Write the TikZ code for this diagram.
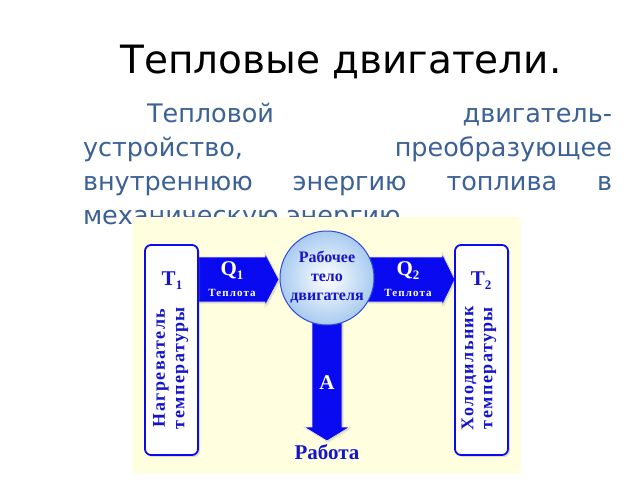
\documentclass[tikz,border=0pt]{standalone}
\usepackage{fontspec}
\setmainfont{DejaVu Sans}
\newfontfamily\tnr{Liberation Serif}
\newfontfamily\tnrsp[LetterSpace=8]{Liberation Serif}
\newfontfamily\tnrspw[LetterSpace=10]{Liberation Serif}
\usetikzlibrary{shadows,calc}
\definecolor{bodytext}{HTML}{3B6196}
\definecolor{panel}{HTML}{FFFFE0}
\definecolor{arrowblue}{HTML}{0A0AF0}
\definecolor{dtext}{HTML}{1414CC}
\definecolor{circblue}{HTML}{A9CBF0}
\definecolor{rimblue}{HTML}{2B4BD8}
\begin{document}
\begin{tikzpicture}[x=1pt,y=-1pt,
 every node/.style={inner sep=0pt, outer sep=0pt},
 titletext/.style={font=\fontsize{39}{39}\selectfont, text=black, anchor=base},
 para/.style={font=\fontsize{25.5}{30}\selectfont, text=bodytext, anchor=base west},
 tbox/.style={draw=arrowblue, line width=1.8pt, fill=white, rounded corners=6pt, minimum width=53pt, minimum height=210pt, drop shadow={shadow xshift=2pt, shadow yshift=-2pt, opacity=0.25}},
 blockarrow/.style={fill=arrowblue, draw=black!12, line width=0.8pt, drop shadow={shadow xshift=1.5pt, shadow yshift=-1.5pt, opacity=0.2}},
 dlabel/.style={font=\tnr\bfseries\fontsize{21}{21}\selectfont, text=dtext},
 wlabel/.style={font=\tnr\bfseries\fontsize{21}{21}\selectfont, text=white},
 smalllabel/.style={font=\tnrspw\bfseries\fontsize{11}{11}\selectfont, text=white},
 vlabel/.style={font=\tnrsp\bfseries\fontsize{18}{18}\selectfont, text=dtext, rotate=90},
 circtext/.style={font=\tnr\bfseries\fontsize{16}{19}\selectfont, text=dtext, align=center},
]
\useasboundingbox (0,0) rectangle (640,480);
\fill[white] (0,0) rectangle (640,480);
% title and paragraph
\node[titletext] (title) at (341,73) {Тепловые двигатели.};
\node[para] (l1) at (147,122) {\makebox[465pt][s]{Тепловой\hfill двигатель-}};
\node[para] (l2) at (83,156) {\makebox[529pt][s]{устройство,\hfill преобразующее}};
\node[para] (l3) at (83,190) {\makebox[529pt][s]{внутреннюю\hfill энергию\hfill топлива\hfill в}};
\node[para] (l4) at (83,224) {механическую энергию};
% panel
\fill[panel] (133,217) rectangle (521,474);
% arrows
\path[blockarrow] (198,257) -- (265,257) -- (265,253) -- (279,279.5) -- (265,306) -- (265,302) -- (198,302) -- cycle;
\path[blockarrow] (362,257) -- (442,257) -- (442,253) -- (455,279.5) -- (442,306) -- (442,302) -- (362,302) -- cycle;
\path[blockarrow] (312,300) -- (342,300) -- (342,427) -- (350,427) -- (327,441) -- (304,427) -- (312,427) -- cycle;
% boxes
\node[tbox] (heater) at (171.5,350) {};
\node[tbox] (cooler) at (481.5,350) {};
% circle
\node[circle, minimum size=94pt, draw=rimblue, line width=1pt, inner color=white, outer color=circblue] (body) at (327,278) {};
\node[circtext] (bodytxt) at (327,277) {Рабочее\\тело\\двигателя};
% labels
\node[dlabel] (t1) at (172,281) {T\raisebox{-4pt}{\fontsize{13}{13}\selectfont 1}};
\node[dlabel] (t2) at (481,281) {T\raisebox{-4pt}{\fontsize{13}{13}\selectfont 2}};
\node[wlabel] (q1) at (232,271) {Q\raisebox{-4pt}{\fontsize{13}{13}\selectfont 1}};
\node[wlabel] (q2) at (408,271) {Q\raisebox{-4pt}{\fontsize{13}{13}\selectfont 2}};
\node[smalllabel] (h1) at (232,293) {Теплота};
\node[smalllabel] (h2) at (408,293) {Теплота};
\node[wlabel] (work) at (327,383) {А};
\node[dlabel] (worklabel) at (327,452) {Работа};
\node[vlabel] (heat1) at (161,368) {Нагреватель};
\node[vlabel] (heat2) at (182,368) {температуры};
\node[vlabel] (cool1) at (469,368) {Холодильник};
\node[vlabel] (cool2) at (490,368) {температуры};
\end{tikzpicture}
\end{document}
